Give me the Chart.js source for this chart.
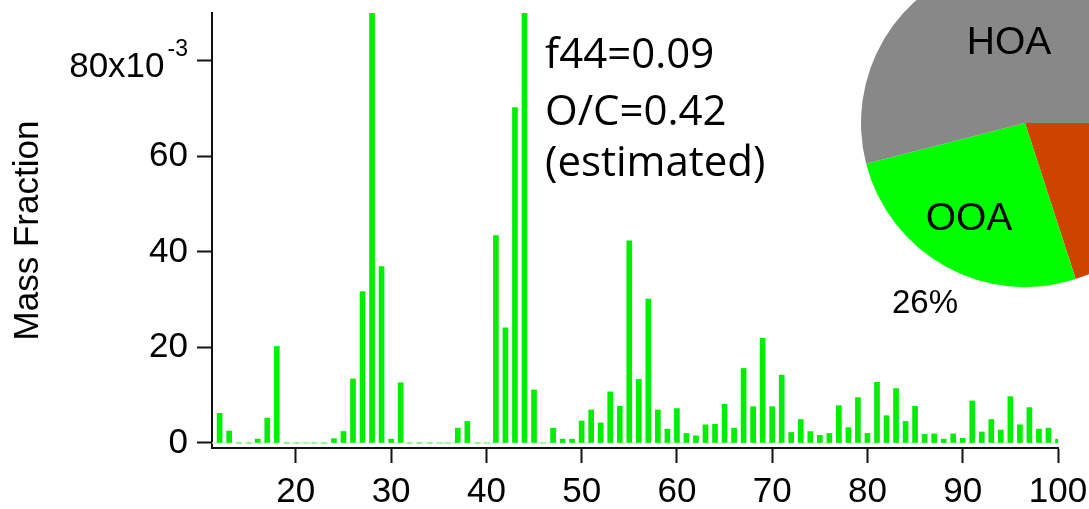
<!DOCTYPE html>
<html>
<head>
<meta charset="utf-8">
<script src="https://cdn.jsdelivr.net/npm/chart.js@4.4.1/dist/chart.umd.min.js"></script>
<style>
    html, body { margin: 0; padding: 0; background: #fff; overflow: hidden; }
    #wrap { position: relative; width: 1089px; height: 509px; overflow: hidden; }
    #specChart { position: absolute; left: 0; top: 0; }
    #pieChart { position: absolute; left: 861px; top: -41px; }
    .note { position: absolute; left: 545px; font-family: "Open Sans", sans-serif; font-size: 42px; color: #000; line-height: 1; white-space: nowrap; }
    .pieLabel { position: absolute; font-family: "Liberation Sans", Arial, sans-serif; color: #000; transform: translate(-50%, -50%); line-height: 1; white-space: nowrap; }
</style>
</head>
<body>
<div id="wrap">
    <canvas id="specChart" width="1089" height="509"></canvas>
    <canvas id="pieChart" width="328" height="328"></canvas>
    <div class="note" style="top: 31px;">f44=0.09</div>
    <div class="note" style="top: 88px;">O/C=0.42</div>
    <div class="note" style="top: 139px;">(estimated)</div>
    <div class="pieLabel" style="left: 1009px; top: 40px; font-size: 39px;">HOA</div>
    <div class="pieLabel" style="left: 969px; top: 216px; font-size: 39px;">OOA</div>
    <div class="pieLabel" style="left: 925px; top: 301px; font-size: 33px;">26%</div>
</div>
<script>
// m/z and mass fraction (x10^-3) of the OOA factor spectrum
const mz = [12, 13, 14, 15, 16, 17, 18, 19, 20, 21, 22, 23, 24, 25, 26, 27, 28, 29, 30,
    31, 32, 33, 34, 35, 36, 37, 38, 39, 40, 41, 42, 43, 44, 45, 46, 47, 48, 49, 50,
    51, 52, 53, 54, 55, 56, 57, 58, 59, 60, 61, 62, 63, 64, 65, 66, 67, 68, 69, 70,
    71, 72, 73, 74, 75, 76, 77, 78, 79, 80, 81, 82, 83, 84, 85, 86, 87, 88, 89, 90,
    91, 92, 93, 94, 95, 96, 97, 98, 99, 100];
const massFraction = [6.2, 2.5, 0, 0, 0.8, 5.2, 20.2, 0, 0, 0, 0, 0, 0.9, 2.4, 13.4, 31.7, 90, 36.9, 0.8,
    12.6, 0, 0, 0, 0, 0, 3.1, 4.5, 0, 0, 43.4, 24.1, 70.2, 90, 11.1, 0, 3.1, 0.8, 0.8, 4.6,
    6.9, 4.2, 10.7, 7.7, 42.3, 13.3, 30.1, 6.9, 2.9, 7.2, 2.0, 1.5, 3.8, 3.9, 8.1, 3.1, 15.6, 7.6, 21.9, 7.6,
    14.2, 2.2, 4.9, 2.4, 1.6, 2.0, 7.8, 3.2, 9.5, 2.0, 12.7, 5.7, 11.4, 4.5, 7.7, 1.8, 1.9, 0.8, 1.9, 1.0,
    8.8, 2.3, 4.9, 2.7, 9.7, 3.8, 7.4, 2.9, 3.1, 0.8];
const xTicks = [20, 30, 40, 50, 60, 70, 80, 90, 100];
const yTicks = [0, 20, 40, 60, 80];

// factor shares for the pie (percent)
const pieLabels = ["Other", "OOA", "HOA"];
const pieShares = [20, 26, 54];
const pieColors = ["#cc4400", "#00ff00", "#888888"];

const axisFont = { family: "'Liberation Sans', Arial, sans-serif", size: 35 };

// draws the "80x10^-3" label with a real superscript
const expLabel = {
    id: "expLabel",
    afterDraw(chart) {
        const y = chart.scales.y;
        const ctx = chart.ctx;
        const py = y.getPixelForValue(80);
        const right = y.right - 15 - 9;
        ctx.save();
        ctx.fillStyle = "#000";
        ctx.textBaseline = "middle";
        ctx.textAlign = "right";
        ctx.font = "23px 'Liberation Sans', Arial, sans-serif";
        ctx.fillText("-3", right, py - 11);
        const supW = ctx.measureText("-3").width;
        ctx.font = "35px 'Liberation Sans', Arial, sans-serif";
        ctx.fillText("80x10", right - supW - 3, py + 7);
        ctx.restore();
    }
};

const specChart = new Chart(document.getElementById("specChart"), {
    type: "bar",
    data: {
        datasets: [{
            label: "Mass Fraction",
            data: mz.map((m, i) => ({ x: m, y: massFraction[i] })),
            backgroundColor: "#00ee00",
            barThickness: 5,
            order: 0
        }, {
            type: "line",
            label: "baseline",
            data: [{ x: 11.2, y: 0 }, { x: 100, y: 0 }],
            borderColor: "#c6f2c6",
            borderWidth: 1.5,
            borderDash: [6, 6],
            pointRadius: 0,
            order: 1
        }]
    },
    options: {
        responsive: false,
        animation: false,
        layout: { padding: { top: 13, right: 31, left: 0, bottom: 0 } },
        plugins: { legend: { display: false }, tooltip: { enabled: false } },
        scales: {
            x: {
                type: "linear",
                min: 11.2,
                max: 100,
                offset: false,
                afterBuildTicks: s => { s.ticks = xTicks.map(v => ({ value: v })); },
                afterFit: s => { s.height = 61; s.paddingLeft = 0; s.paddingRight = 0; },
                grid: { display: true, offset: false, drawOnChartArea: false, drawTicks: true, tickLength: 15, tickWidth: 2, tickColor: "#111" },
                border: { display: true, width: 2, color: "#111" },
                ticks: { font: axisFont, color: "#000", padding: 8, maxRotation: 0, autoSkip: false }
            },
            y: {
                min: -1.05,
                max: 90,
                afterBuildTicks: s => { s.ticks = yTicks.map(v => ({ value: v })); },
                afterFit: s => { s.width = 212; },
                grid: { display: true, drawOnChartArea: false, drawTicks: true, tickLength: 15, tickWidth: 2, tickColor: "#111" },
                border: { display: true, width: 2, color: "#111" },
                ticks: {
                    // the 80 label is drawn by expLabel, keep its box tiny
                    font: ctx => (ctx.tick && ctx.tick.value === 80) ? { family: axisFont.family, size: 1 } : axisFont,
                    color: "#000",
                    padding: 9,
                    callback: v => v === 80 ? "" : v
                },
                title: { display: true, text: "Mass Fraction", font: axisFont, color: "#000", padding: { top: 7, bottom: 0 } }
            }
        }
    },
    plugins: [expLabel]
});

const pieChart = new Chart(document.getElementById("pieChart"), {
    type: "pie",
    data: {
        labels: pieLabels,
        datasets: [{ data: pieShares, backgroundColor: pieColors, borderWidth: 0 }]
    },
    options: {
        responsive: false,
        animation: false,
        rotation: 90,
        layout: { padding: 0 },
        plugins: { legend: { display: false }, tooltip: { enabled: false } }
    }
});
</script>
</body>
</html>
